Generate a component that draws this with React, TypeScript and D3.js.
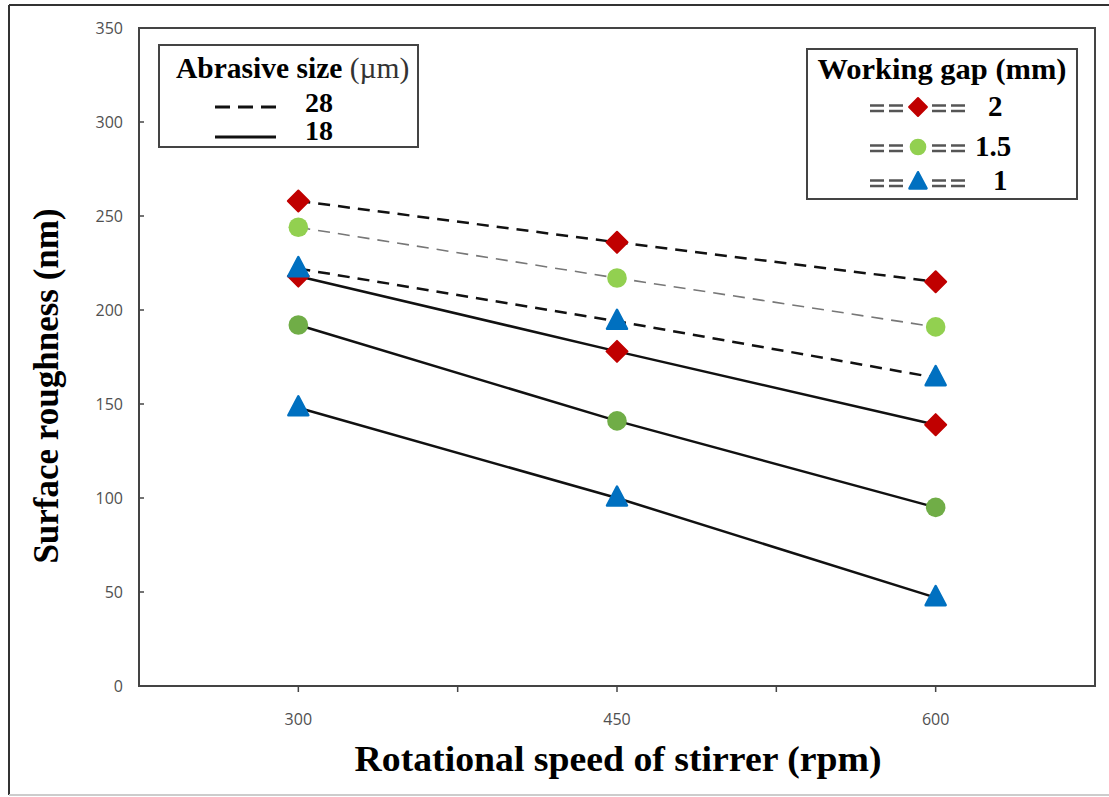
import React from "react";
import * as d3 from "d3";

const speeds = ["300", "450", "600"];
const yTicks = [0, 50, 100, 150, 200, 250, 300, 350];

// Abrasive size 28 µm (dashed)
const dashed_gap2 = [258, 236, 215];
const dashed_gap15 = [244, 217, 191];
const dashed_gap1 = [222, 194, 164];
// Abrasive size 18 µm (solid)
const solid_gap2 = [218, 178, 139];
const solid_gap15 = [192, 141, 95];
const solid_gap1 = [148, 100, 47];

const gapLabels = ["2", "1.5", "1"];
const sizeLabels = ["28", "18"];

const RED = "#C00000";
const LGREEN = "#92D050";
const DGREEN = "#70AD47";
const BLUE = "#0070C0";

const L = 139, R = 1095, T = 28, B = 686;

type Series = { values: number[]; marker: string; color: string; dashed: boolean; lineColor: string; lineWidth: number };

const series: Series[] = [
  { values: dashed_gap2, marker: "diamond", color: RED, dashed: true, lineColor: "#111", lineWidth: 2.5 },
  { values: dashed_gap15, marker: "circle", color: LGREEN, dashed: true, lineColor: "#777", lineWidth: 1.6 },
  { values: dashed_gap1, marker: "triangle", color: BLUE, dashed: true, lineColor: "#111", lineWidth: 2.5 },
  { values: solid_gap2, marker: "diamond", color: RED, dashed: false, lineColor: "#111", lineWidth: 2.5 },
  { values: solid_gap15, marker: "circle", color: DGREEN, dashed: false, lineColor: "#111", lineWidth: 2.5 },
  { values: solid_gap1, marker: "triangle", color: BLUE, dashed: false, lineColor: "#111", lineWidth: 2.5 },
];

function Marker({ type, x, y, color, s = 1 }: { type: string; x: number; y: number; color: string; s?: number }) {
  if (type === "circle") return <circle cx={x} cy={y} r={9.8 * s} fill={color} />;
  if (type === "diamond") {
    const d = 10.5 * s;
    return (
      <path
        d={`M${x},${y - d}L${x + d},${y}L${x},${y + d}L${x - d},${y}Z`}
        fill={color}
        stroke={color}
        strokeWidth={2}
        strokeLinejoin="round"
      />
    );
  }
  const h = 10 * s;
  return (
    <path
      d={`M${x},${y - h * 1.15}L${x + h},${y + h * 0.75}L${x - h},${y + h * 0.75}Z`}
      fill={color}
      stroke={color}
      strokeWidth={2.5}
      strokeLinejoin="round"
    />
  );
}

export default function App() {
  const x = d3.scaleBand<string>().domain(speeds).range([L, R]).padding(0);
  const cx = (c: string) => (x(c) as number) + x.bandwidth() / 2;
  const y = d3.scaleLinear().domain([0, 350]).range([B, T]);

  const line = d3
    .line<number>()
    .x((_, i) => cx(speeds[i]))
    .y((v) => y(v));

  const xTickPos: number[] = [];
  speeds.forEach((c, i) => {
    if (i > 0) xTickPos.push(x(c) as number);
    xTickPos.push(cx(c));
  });

  const tickFont = "'Open Sans', 'DejaVu Sans', sans-serif";
  const serif = "'Liberation Serif', 'Times New Roman', serif";

  const legendRows = [
    { marker: "diamond", color: RED, y: 107, lx: 988, base: 116 },
    { marker: "circle", color: LGREEN, y: 147, lx: 975, base: 156 },
    { marker: "triangle", color: BLUE, y: 182, lx: 993, base: 190 },
  ];

  const dashPair = (x0: number, yy: number) => (
    <g>
      <line x1={x0} x2={x0 + 33} y1={yy - 1.5} y2={yy - 1.5} stroke="#555" strokeWidth={2.5} strokeDasharray="14 5" />
      <line x1={x0} x2={x0 + 33} y1={yy + 4} y2={yy + 4} stroke="#555" strokeWidth={2.5} strokeDasharray="14 5" />
    </g>
  );

  return (
    <svg
      width={1109}
      height={797}
      style={{ position: "absolute", left: 0, top: 0, background: "#fff" }}
    >
      <rect x={0} y={0} width={1109} height={797} fill="#fff" />
      {/* outer frame */}
      <line x1={9} x2={1109} y1={5} y2={5} stroke="#333" strokeWidth={2} />
      <line x1={9} x2={9} y1={5} y2={795} stroke="#333" strokeWidth={2} />
      <line x1={9} x2={1109} y1={795} y2={795} stroke="#ccc" strokeWidth={2} />

      {/* plot border */}
      <rect x={L} y={T} width={R - L} height={B - T} fill="none" stroke="#444" strokeWidth={2} />

      {/* y ticks */}
      {yTicks.map((t) => (
        <g key={t}>
          {t > 0 && t < 350 && <line x1={L} x2={L + 5} y1={y(t)} y2={y(t)} stroke="#444" strokeWidth={1.5} />}
          <text x={123} y={y(t)} dy="0.35em" textAnchor="end" fontFamily={tickFont} fontSize={16} fill="#505050">
            {t}
          </text>
        </g>
      ))}

      {/* x ticks */}
      {xTickPos.map((p, i) => (
        <line key={i} x1={p} x2={p} y1={B} y2={B + 6} stroke="#444" strokeWidth={1.5} />
      ))}
      {speeds.map((c) => (
        <text key={c} x={cx(c)} y={719} dy="0.35em" textAnchor="middle" fontFamily={tickFont} fontSize={16} fill="#505050">
          {c}
        </text>
      ))}

      {/* axis titles */}
      <text
        transform="translate(58,386) rotate(-90)"
        textAnchor="middle"
        fontFamily={serif}
        fontWeight="bold"
        fontSize={35}
        fill="#000"
      >
        Surface roughness (nm)
      </text>
      <text
        x={618}
        y={771}
        textAnchor="middle"
        fontFamily={serif}
        fontWeight="bold"
        fontSize={36}
        fill="#000"
        textLength={527}
        lengthAdjust="spacingAndGlyphs"
      >
        Rotational speed of stirrer (rpm)
      </text>

      {/* lines */}
      {series.map((s, i) => (
        <path
          key={i}
          d={line(s.values) as string}
          fill="none"
          stroke={s.lineColor}
          strokeWidth={s.lineWidth}
          strokeDasharray={s.dashed ? "12 8" : undefined}
        />
      ))}
      {/* markers */}
      {[3, 4, 5, 0, 1, 2].map((si) =>
        series[si].values.map((v, i) => (
          <Marker key={`${si}-${i}`} type={series[si].marker} x={cx(speeds[i])} y={y(v)} color={series[si].color} />
        ))
      )}

      {/* left legend */}
      <rect x={159} y={45} width={259} height={102} fill="#fff" stroke="#444" strokeWidth={2} />
      <text x={176} y={78} fontFamily={serif} fontWeight="bold" fontSize={29.5} fill="#000">
        Abrasive size <tspan fontWeight="normal" fill="#333">(µm)</tspan>
      </text>
      <line x1={215} x2={276} y1={107} y2={107} stroke="#111" strokeWidth={3} strokeDasharray="15 8" />
      <text x={305} y={112} fontFamily={serif} fontWeight="bold" fontSize={28} fill="#000">
        {sizeLabels[0]}
      </text>
      <line x1={215} x2={276} y1={137} y2={137} stroke="#111" strokeWidth={3} />
      <text x={305} y={140} fontFamily={serif} fontWeight="bold" fontSize={28} fill="#000">
        {sizeLabels[1]}
      </text>

      {/* right legend */}
      <rect x={807} y={49} width={270} height={150} fill="#fff" stroke="#444" strokeWidth={2} />
      <text
        x={942}
        y={79}
        textAnchor="middle"
        fontFamily={serif}
        fontWeight="bold"
        fontSize={30}
        fill="#000"
        textLength={249}
        lengthAdjust="spacingAndGlyphs"
      >
        Working gap (mm)
      </text>
      {legendRows.map((r, i) => (
        <g key={i}>
          {dashPair(870, r.y)}
          {dashPair(932, r.y)}
          <Marker type={r.marker} x={918} y={r.y} color={r.color} s={0.85} />
          <text x={r.lx} y={r.base} fontFamily={serif} fontWeight="bold" fontSize={29} fill="#000">
            {gapLabels[i]}
          </text>
        </g>
      ))}
    </svg>
  );
}
